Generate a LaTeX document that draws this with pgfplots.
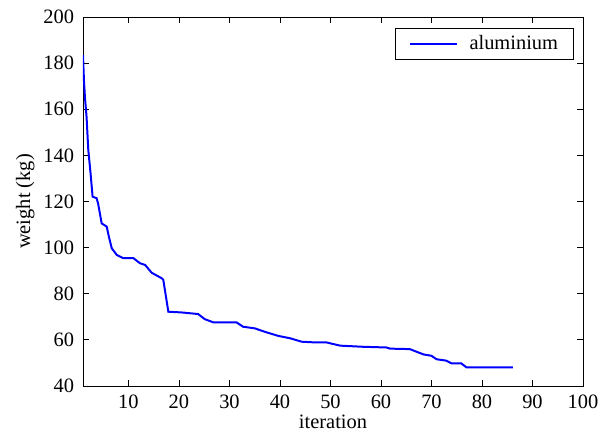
\documentclass[border=0pt]{standalone}
\usepackage{fontspec}
\setmainfont{Liberation Serif}
\usepackage{pgfplots}
\pgfplotsset{compat=1.18}
\begin{document}
\fontsize{20.5}{24}\selectfont
\begin{tikzpicture}[x=1bp,y=1bp]
\begin{axis}[
  scale only axis,
  width=500bp, height=369bp,
  xmin=1, xmax=100, ymin=40, ymax=200,
  xtick={10,20,...,100}, ytick={40,60,...,200},
  xticklabels={10,20,30,40,50,60,70,80,90,100},
  yticklabels={40,60,80,100,120,140,160,180,200},
  tick align=inside,
  major tick length=6bp,
  tick style={black, line width=0.8pt},
  axis line style={line width=0.8pt},
  ticklabel style={font=\rmfamily\fontsize{20.5}{24}\selectfont},
  xticklabel style={yshift=-2bp},
  yticklabel style={xshift=-2bp},
  label style={font=\rmfamily\fontsize{20.5}{24}\selectfont},
  xlabel={iteration}, ylabel={weight (kg)},
  xlabel style={yshift=8bp},
  ylabel style={yshift=-5bp},
  legend style={at={(1,1)}, xshift=-10bp, yshift=-11bp, anchor=north east, draw=black, line width=0.8pt,
    outer sep=0pt, font=\rmfamily\fontsize{20.5}{24}\selectfont, inner xsep=13bp, inner ysep=5bp},
  legend cell align=left,
  legend image code/.code={\draw[#1, line width=2pt] (0bp,0bp) -- (47bp,0bp);},
]
\addplot[blue, line width=2pt] coordinates {
(1,183.5) (1.2,172) (1.4,164.8) (1.7,156.8) (2.05,142.3) (2.5,132.2) (2.9,122.1)
(3.7,121.4) (4.0,119) (4.7,110.5) (5.7,109.1) (6.2,104) (6.7,99.7) (7.7,96.8)
(9,95.4) (11,95.4) (12.3,93.2) (13.3,92.5) (14.6,89.1) (16.6,86.7) (16.9,86)
(17.9,72.2) (20.5,71.9) (23.8,71.2) (25.1,69) (26.8,67.6) (31.4,67.6) (32.7,65.7)
(35,65) (37,63.5) (39.7,61.7) (42,60.7) (44.3,59.2) (46.9,58.9) (49.2,58.9)
(51.9,57.5) (56.5,57.0) (61.1,56.7) (61.8,56.2) (65.7,56.0) (68.4,53.7) (70,53.1)
(71,51.6) (72.9,51) (74,49.8) (75.9,49.8) (76.9,48.1) (86.1,48.1)
};
\addlegendentry{\hspace{10bp}aluminium}
\end{axis}
\path (current axis.south west) ++(-83bp,-53bp) coordinate (bbA);
\path (current axis.north east) ++(31bp,17bp) coordinate (bbB);
\useasboundingbox (bbA) rectangle (bbB);
\end{tikzpicture}
\end{document}
